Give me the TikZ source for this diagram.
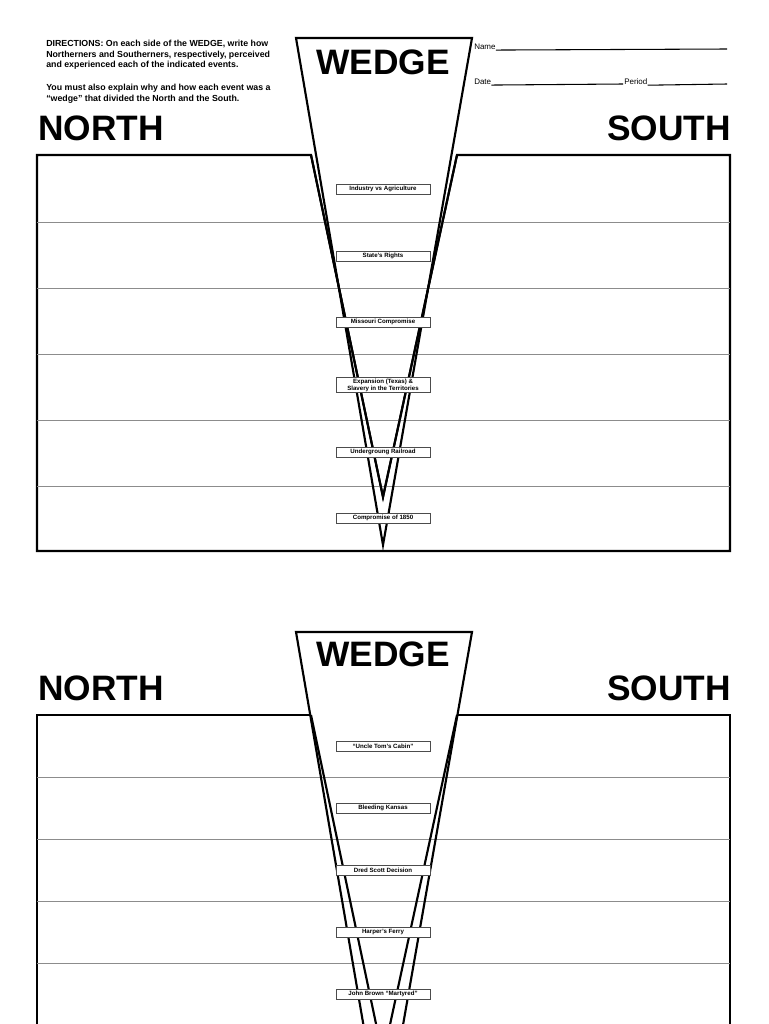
\documentclass[tikz,border=0pt]{standalone}
\usepackage{fontspec}
\setmainfont{Liberation Sans}
\begin{document}
\begin{tikzpicture}[x=0.75pt,y=-0.75pt,
  lab/.style={draw=black!70,fill=white,line width=0.5pt,font=\bfseries\fontsize{4.6}{5.2}\selectfont,minimum width=70.5pt,minimum height=7.5pt,inner sep=1pt,align=center},
  big/.style={font=\bfseries\fontsize{26.5}{28}\selectfont,inner sep=0pt},
  dir/.style={font=\bfseries\fontsize{6.6}{7.8}\selectfont,align=left,inner sep=0pt,anchor=north west},
  thick line/.style={line width=1.6pt},
  row/.style={draw=black!45,line width=0.5pt}]
\useasboundingbox (0,0) rectangle (768,1024);
\fill[white] (0,0) rectangle (768,1024);
% ---------- top sheet
\node[dir] (d1) at (46,40) {DIRECTIONS: On each side of the WEDGE, write how\\Northerners and Southerners, respectively, perceived\\and experienced each of the indicated events.};
\node[dir] (d2) at (46,84) {You must also explain why and how each event was a\\``wedge'' that divided the North and the South.};
\node[font=\fontsize{6}{7}\selectfont,anchor=west,inner sep=0pt] (nm) at (474,47) {Name};
\coordinate (nme) at (727,49);
\draw[line width=0.8pt] (nm.south east) -- (nme);
\node[font=\fontsize{6}{7}\selectfont,anchor=west,inner sep=0pt] (dt) at (474,82) {Date};
\coordinate (dte) at (623,84);
\draw[line width=0.8pt] (dt.south east) -- (dte);
\node[font=\fontsize{6}{7}\selectfont,anchor=west,inner sep=0pt] (pd) at (624,82) {Period};
\coordinate (pde) at (727,84);
\draw[line width=0.8pt] (pd.south east) -- (pde);
\node[big,anchor=west] (n1) at (38,128) {NORTH};
\node[big,anchor=east] (s1) at (731,128) {SOUTH};
% box
\draw[thick line,fill=white] (311,155) -- (37,155) -- (37,551) -- (730,551) -- (730,155) -- (457,155) -- (383,497) -- cycle;
\foreach \y in {222,288,354,420,486} {\draw[row] (37,\y) -- (730,\y);}
% wedge
\draw[thick line] (296,38) -- (472,38) -- (383,545) -- cycle;
\draw[thick line] (311,155) -- (383,497) -- (457,155);
\node[big] (w1) at (383,62) {WEDGE};
\node[lab] (a1) at (383,189) {Industry vs Agriculture};
\node[lab] (a2) at (383,256) {State's Rights};
\node[lab] (a3) at (383,322) {Missouri Compromise};
\node[lab] (a4) at (383,385) {Expansion (Texas) \&\\Slavery in the Territories};
\node[lab] (a5) at (383,452) {Undergroung Railroad};
\node[lab] (a6) at (383,518) {Compromise of 1850};
% ---------- bottom sheet
\node[big,anchor=west] (n2) at (38,688) {NORTH};
\node[big,anchor=east] (s2) at (731,688) {SOUTH};
\begin{scope}
\clip (0,0) rectangle (768,1024);
\draw[thick line] (311,715) -- (37,715) -- (37,1030);
\draw[thick line] (730,1030) -- (730,715) -- (457,715);
\foreach \y in {777,839,901,963} {\draw[row] (37,\y) -- (730,\y);}
\draw[thick line] (383,1139) -- (296,632) -- (472,632) -- cycle;
\draw[thick line] (311,715) -- (383,1057) -- (457,715);
\end{scope}
\node[big] (w2) at (383,654) {WEDGE};
\node[lab] (b1) at (383,746) {``Uncle Tom's Cabin''};
\node[lab] (b2) at (383,808) {Bleeding Kansas};
\node[lab] (b3) at (383,870) {Dred Scott Decision};
\node[lab] (b4) at (383,932) {Harper's Ferry};
\node[lab] (b5) at (383,994) {John Brown ``Martyred''};
\end{tikzpicture}
\end{document}
